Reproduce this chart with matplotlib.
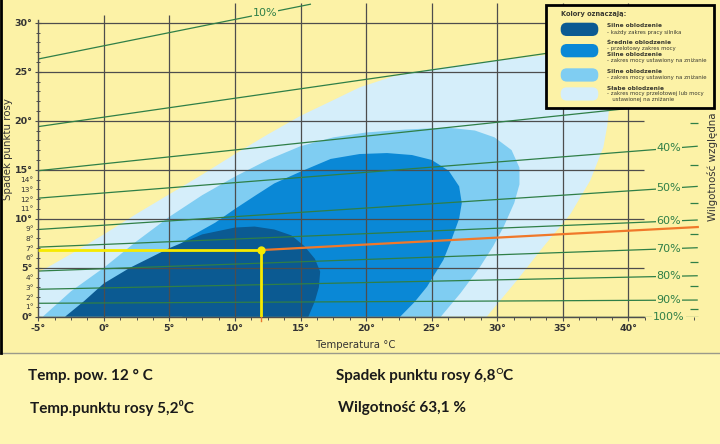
import numpy as np
import matplotlib
matplotlib.use('Agg')
import matplotlib.pyplot as plt
from matplotlib.patches import FancyBboxPatch, Rectangle
from matplotlib.lines import Line2D
from matplotlib.ticker import FixedLocator, FuncFormatter

# axis values
temp_major = [-5, 0, 5, 10, 15, 20, 25, 30, 35, 40]
spread_major = [0, 5, 10, 15, 20, 25, 30]
spread_minor = [v for v in range(0, 31) if v % 5]
spread_minor_labelled = [1, 2, 3, 4, 6, 7, 8, 9, 11, 12, 13, 14]

# relative humidity lines: spread at start and end of each line
rh_names = ['10%', '20%', '30%', '40%', '50%', '60%', '70%', '80%', '90%', '100%']
rh_t0 = [-5, -5, -5, -5, -5, -5, -5, -5, -5, -5]
rh_s0 = [26.3, 19.4, 14.9, 12.1, 8.9, 7.1, 4.66, 2.8, 1.37, 0.0]
rh_t1 = [15.8, 45.3, 45.3, 45.3, 45.3, 45.3, 45.3, 45.3, 45.3, 45.3]
rh_s1 = [31.9, 29.1, 22.0, 17.4, 13.3, 9.87, 7.04, 4.18, 1.7, 0.0]
rh_label_t = [12.3, None, None, 43.1, 43.1, 43.1, 43.1, 43.1, 43.1, 43.1]
rh_between = [19.8, 15.5, 11.6, 8.4, 5.6, 3.1, 0.78]

# icing regions (temperature, dew point spread)
vlight_t = [-5, -5, -2.5, 0, 2.5, 5, 7.5, 10, 12.5, 15, 17.5, 19.5, 22, 25.2, 29, 33.7,
            36.5, 38.2, 38.6, 38.4, 38.1, 37.1, 35.6, 33.5, 31.5, 29.2]
vlight_s = [0, 4.5, 6.4, 8.4, 10.5, 12.5, 14.5, 16.6, 18.6, 20.5, 22.1, 23.4, 24.5, 25.3, 26.0, 26.7,
            26.5, 25.0, 22.0, 19.5, 17.3, 13.9, 10.5, 7.1, 3.7, 0]
light_t = [-4.66, -2.5, 0, 2.5, 5, 7.5, 10, 12.5, 15, 17.5, 20, 23, 26.2, 28.3, 29.8, 31.1,
           31.7, 31.7, 31.3, 30.5, 29.7, 28.7, 27.2, 25.7]
light_s = [0, 2.6, 5.0, 7.7, 10.2, 12.4, 14.3, 16.0, 17.4, 18.3, 18.8, 19.1, 19.3, 19.0, 18.3, 17.0,
           15.2, 13.5, 11.6, 9.2, 7.2, 5.1, 2.4, 0]
medium_t = [5, 6.5, 8.5, 10, 11.6, 13, 15, 17.3, 19.5, 21.6, 23.5, 25.0, 26.3, 27.1, 27.3, 27.1,
            26.5, 25.9, 24.65, 23.7, 22.6, 6]
medium_s = [6.5, 8.1, 9.6, 11.0, 12.4, 13.6, 14.8, 16.1, 16.6, 16.7, 16.5, 16.0, 14.9, 13.3, 11.6, 10.0,
            7.8, 5.8, 3.06, 1.5, 0, 0]
dark_t = [-2.96, -1.5, 0, 2, 5, 7.5, 10, 11.5, 13, 14.3, 15.3, 16.1, 16.5, 16.4, 16.1, 15.6]
dark_s = [0, 1.6, 3.4, 5.0, 7.0, 8.4, 9.1, 9.2, 8.9, 8.3, 7.2, 5.9, 4.6, 3.0, 1.6, 0]

# reading for the example point
read_temp = 12.0
read_spread = 6.8
read_rh_t_end = 45.3
read_rh_s_end = 9.15

legend_title = 'Kolory oznaczają:'
legend_text = [
    [('Silne oblodzenie', True), ('- każdy zakres pracy silnika', False)],
    [('Średnie oblodzenie', True), ('- przelotowy zakres mocy', False),
     ('Silne oblodzenie', True), ('- zakres mocy ustawiony na zniżanie', False)],
    [('Silne oblodzenie', True), ('- zakres mocy ustawiony na zniżanie', False)],
    [('Słabe oblodzenie', True), ('- zakres mocy przelotowej lub mocy', False),
     ('   ustawionej na zniżanie', False)],
]

chart_bg = '#fcf2a6'
low_bg = '#fef6b2'
grid_c = '#4d4d4d'
green = '#2f7f47'
txt_c = '#333333'
c_vlight = '#d5eefa'
c_light = '#7fcdf2'
c_medium = '#0a88d6'
c_dark = '#0b5a92'

fig = plt.figure(figsize=(7.2, 4.44), dpi=100)
fig.patch.set_facecolor(low_bg)
fig.add_artist(Rectangle((0, 91 / 444), 1, 353 / 444, transform=fig.transFigure,
                         fc=chart_bg, ec='none', zorder=-2))

ax = fig.add_axes([38.3 / 720, 127.3 / 444, 675.2 / 720, 316.7 / 444])
ax.set_xlim(-5, 46.5)
ax.set_ylim(0, 32.32)
ax.patch.set_visible(False)

# regions
ax.fill(vlight_t, vlight_s, color=c_vlight, lw=0, zorder=1)
ax.fill(light_t, light_s, color=c_light, lw=0, zorder=1.1)
ax.fill(medium_t, medium_s, color=c_medium, lw=0, zorder=1.2)
ax.fill(dark_t, dark_s, color=c_dark, lw=0, zorder=1.3)

# grid
ax.hlines(spread_major, -5, 41.2, colors=grid_c, lw=0.9, zorder=2)
for t in temp_major[1:]:
    top = 30.8 if t < 10 else 32.0
    ax.vlines(t, 0, top, colors=grid_c, lw=0.9, zorder=2)

for side in ['top', 'right']:
    ax.spines[side].set_visible(False)
ax.spines['left'].set_bounds(0, 30.3)
ax.spines['bottom'].set_bounds(-5, 41.2)
for side in ['left', 'bottom']:
    ax.spines[side].set_color(grid_c)
    ax.spines[side].set_linewidth(1)
    ax.spines[side].set_zorder(2.5)

ax.set_xticks(temp_major, labels=[f'{t}°' for t in temp_major])
ax.xaxis.set_minor_locator(FixedLocator(np.arange(-5, 45.4, 1.25)))
ax.set_yticks(spread_major, labels=[f'{s}°' for s in spread_major])
ax.yaxis.set_minor_locator(FixedLocator(spread_minor))
ax.yaxis.set_minor_formatter(FuncFormatter(
    lambda v, p: f'{int(round(v))}°' if int(round(v)) in spread_minor_labelled else ''))
ax.tick_params(axis='x', which='major', direction='out', length=3, width=0.8,
               color=grid_c, labelsize=6.8, labelcolor=txt_c, pad=2)
ax.tick_params(axis='x', which='minor', direction='out', length=2.5, width=0.7, color=grid_c)
ax.tick_params(axis='y', which='major', direction='inout', length=5, width=0.8,
               color=grid_c, labelsize=6.8, labelcolor=txt_c, pad=1.5)
ax.tick_params(axis='y', which='minor', direction='inout', length=3.5, width=0.7,
               color=grid_c, labelsize=5.3, labelcolor=txt_c, pad=1.5)
for lbl in ax.get_xticklabels() + ax.get_yticklabels():
    lbl.set_fontweight('bold')

# relative humidity lines
for name, t0, s0, t1, s1, lt in zip(rh_names, rh_t0, rh_s0, rh_t1, rh_s1, rh_label_t):
    ax.plot([t0, t1], [s0, s1], color=green, lw=0.9, zorder=2.2, solid_capstyle='butt')
    if lt is not None:
        ls = np.interp(lt, [t0, t1], [s0, s1])
        ax.text(lt, ls, name, ha='center', va='center', fontsize=8, color=green, zorder=4,
                clip_on=False, bbox=dict(fc=chart_bg, ec='none', pad=0.6))
ax.hlines(rh_between, 44.7, 45.3, colors=green, lw=0.9, zorder=2.2)

# reading lines
ax.plot([-5, read_temp], [read_spread, read_spread], color='#f6ea00', lw=2, zorder=5,
        solid_capstyle='butt')
ax.plot([read_temp, read_temp], [read_spread, 0], color='#f6ea00', lw=2, zorder=5,
        solid_capstyle='butt')
ax.plot([read_temp, read_temp], [0, -0.45], color='#e8782e', lw=1, zorder=5, clip_on=False)
ax.plot([read_temp, read_rh_t_end], [read_spread, read_rh_s_end], color='#f0782a', lw=1.6, zorder=5)
ax.plot(read_temp, read_spread, 'o', ms=5, color='#f6ea00', zorder=6)

# axis titles
fig.text(8 / 720, 1 - 149 / 444, 'Spadek punktu rosy', rotation=90, ha='center', va='center',
         fontsize=7.4, color=txt_c)
fig.text(356 / 720, 1 - 345 / 444, 'Temperatura °C', ha='center', va='center',
         fontsize=7.3, color=txt_c)
fig.text(713 / 720, 1 - 167 / 444, 'Wilgotność względna', rotation=90, ha='center', va='center',
         fontsize=7.4, color=txt_c)

# frame lines
fig.add_artist(Line2D([0, 1], [91 / 444, 91 / 444], transform=fig.transFigure,
                      color='#9a9a8a', lw=1))
fig.add_artist(Line2D([0.0015, 0.0015], [91 / 444, 1], transform=fig.transFigure,
                      color='black', lw=2))

# legend box
lax = fig.add_axes([546 / 720, 1 - 108.3 / 444, 168 / 720, 103.3 / 444])
lax.set_zorder(10)
lax.set_xlim(0, 168)
lax.set_ylim(103.3, 0)
lax.axis('off')
lax.add_patch(Rectangle((0, 0), 168, 103.3, fc=chart_bg, ec='black', lw=2, clip_on=False))
lax.text(14.7, 9, legend_title, fontsize=4.8, fontweight='bold', color='#3a3a30', va='center')
pill_top = [17.7, 39, 63.3, 82.3]
row_y = [[20.7, 27.3], [37.3, 43.3, 49, 55.7], [66.7, 72.7], [83.3, 89, 94.3]]
for color, top, lines, ys in zip([c_dark, c_medium, c_light, c_vlight], pill_top, legend_text, row_y):
    r = 6.2
    lax.add_patch(FancyBboxPatch((14.7 + r, top + r), 37.6 - 2 * r, 13.3 - 2 * r,
                                 boxstyle=f'round,pad={r}', fc=color, ec='none'))
    for (line, bold), y in zip(lines, ys):
        lax.text(60.7, y, line, fontsize=4.2 if bold else 3.9,
                 fontweight='bold' if bold else 'normal', color='#3a3a30', va='center')

# readout texts
font = ['Lato', 'DejaVu Sans']
ink = '#1a1a1a'
fig.text(28 / 720, 1 - 376 / 444, 'Temp. pow. 12 ° C', fontsize=11, fontweight='bold',
         family=font, va='center', color=ink)
fig.text(30 / 720, 1 - 408 / 444, 'Temp.punktu rosy 5,2⁰C', fontsize=11, fontweight='bold',
         family=font, va='center', color=ink)
t3 = fig.text(336 / 720, 1 - 376 / 444, 'Spadek punktu rosy 6,8', fontsize=11, fontweight='bold',
              family=font, va='center', color=ink)
t4 = ax.annotate('○', xy=(1, 0.4), xycoords=t3, xytext=(0.2, 0), textcoords='offset points',
                 fontsize=8.5, family=font, va='bottom', color=ink, annotation_clip=False)
ax.annotate('C', xy=(1, 0), xycoords=(t4, t3), xytext=(-0.5, 0), textcoords='offset points',
            fontsize=11, fontweight='bold', family=font, va='bottom', color=ink,
            annotation_clip=False)
fig.text(338 / 720, 1 - 408 / 444, 'Wilgotność 63,1 %', fontsize=11, fontweight='bold',
         family=font, va='center', color=ink)

fig.savefig('out.png', dpi=100, facecolor=fig.get_facecolor())
